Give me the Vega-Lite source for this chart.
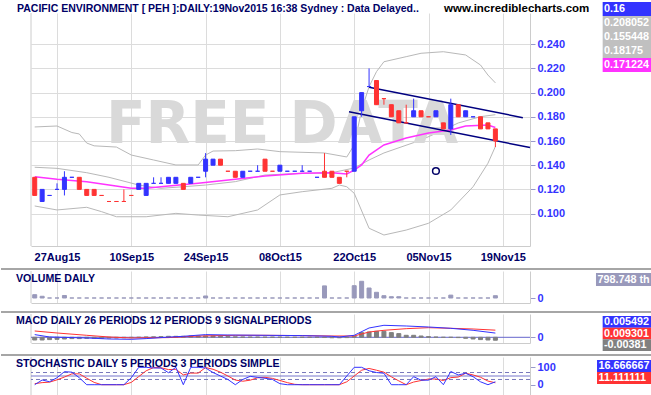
{
  "$schema": "https://vega.github.io/schema/vega-lite/v6.json",
  "background": "white",
  "padding": 0,
  "spacing": 0,
  "config": {
    "font": "Liberation Sans",
    "view": {"stroke": null},
    "axis": {"labelFont": "Liberation Sans"}
  },
  "datasets": {
    "days": [
      {"i":0,"date":"2015-08-24","o":0.13,"h":0.13,"l":0.115,"c":0.115,"dir":"down","vol":1150,"hist":-0.0035,"k":0,"d":6},
      {"i":1,"date":"2015-08-25","o":0.11,"h":0.12,"l":0.11,"c":0.12,"dir":"up","vol":600,"hist":-0.0035,"k":27,"d":12},
      {"i":2,"date":"2015-08-26","o":0.115,"h":0.115,"l":0.115,"c":0.115,"dir":"up","vol":0,"hist":-0.003,"k":17,"d":14.7},
      {"i":3,"date":"2015-08-27","o":0.12,"h":0.125,"l":0.12,"c":0.12,"dir":"up","vol":0,"hist":-0.0026,"k":40,"d":28},
      {"i":4,"date":"2015-08-28","o":0.12,"h":0.135,"l":0.115,"c":0.13,"dir":"up","vol":870,"hist":-0.0022,"k":75,"d":44},
      {"i":5,"date":"2015-08-31","o":0.13,"h":0.13,"l":0.13,"c":0.13,"dir":"up","vol":0,"hist":-0.0017,"k":72,"d":62.3},
      {"i":6,"date":"2015-09-01","o":0.13,"h":0.13,"l":0.12,"c":0.12,"dir":"down","vol":0,"hist":-0.0017,"k":40,"d":62.3},
      {"i":7,"date":"2015-09-02","o":0.12,"h":0.12,"l":0.115,"c":0.115,"dir":"down","vol":0,"hist":-0.0013,"k":0,"d":37.3},
      {"i":8,"date":"2015-09-03","o":0.12,"h":0.12,"l":0.115,"c":0.115,"dir":"down","vol":0,"hist":-0.0013,"k":0,"d":13.3},
      {"i":9,"date":"2015-09-04","o":0.115,"h":0.115,"l":0.115,"c":0.115,"dir":"down","vol":0,"hist":-0.0013,"k":0,"d":0},
      {"i":10,"date":"2015-09-07","o":0.11,"h":0.11,"l":0.11,"c":0.11,"dir":"down","vol":0,"hist":-0.0009,"k":0,"d":0},
      {"i":11,"date":"2015-09-08","o":0.11,"h":0.11,"l":0.11,"c":0.11,"dir":"down","vol":0,"hist":-0.0009,"k":0,"d":0},
      {"i":12,"date":"2015-09-09","o":0.11,"h":0.12,"l":0.11,"c":0.11,"dir":"down","vol":0,"hist":-0.0006,"k":0,"d":0},
      {"i":13,"date":"2015-09-10","o":0.115,"h":0.115,"l":0.115,"c":0.115,"dir":"down","vol":0,"hist":-0.0004,"k":40,"d":13.3},
      {"i":14,"date":"2015-09-11","o":0.12,"h":0.125,"l":0.12,"c":0.125,"dir":"up","vol":0,"hist":0,"k":100,"d":46.7},
      {"i":15,"date":"2015-09-14","o":0.115,"h":0.125,"l":0.115,"c":0.125,"dir":"up","vol":0,"hist":0.0004,"k":100,"d":80},
      {"i":16,"date":"2015-09-15","o":0.125,"h":0.13,"l":0.125,"c":0.125,"dir":"up","vol":0,"hist":0.0006,"k":96,"d":98.7},
      {"i":17,"date":"2015-09-16","o":0.125,"h":0.13,"l":0.125,"c":0.125,"dir":"up","vol":0,"hist":0.0009,"k":96,"d":97.3},
      {"i":18,"date":"2015-09-17","o":0.125,"h":0.13,"l":0.125,"c":0.13,"dir":"up","vol":0,"hist":0.0013,"k":69,"d":87},
      {"i":19,"date":"2015-09-18","o":0.125,"h":0.13,"l":0.125,"c":0.13,"dir":"up","vol":0,"hist":0.0013,"k":100,"d":88.3},
      {"i":20,"date":"2015-09-21","o":0.125,"h":0.125,"l":0.12,"c":0.12,"dir":"down","vol":0,"hist":0.0013,"k":0,"d":56.3},
      {"i":21,"date":"2015-09-22","o":0.125,"h":0.13,"l":0.125,"c":0.13,"dir":"up","vol":0,"hist":0.0017,"k":100,"d":66.7},
      {"i":22,"date":"2015-09-23","o":0.13,"h":0.13,"l":0.13,"c":0.13,"dir":"up","vol":0,"hist":0.0017,"k":100,"d":66.7},
      {"i":23,"date":"2015-09-24","o":0.135,"h":0.15,"l":0.13,"c":0.145,"dir":"up","vol":700,"hist":0.0017,"k":96,"d":98.7},
      {"i":24,"date":"2015-09-25","o":0.14,"h":0.145,"l":0.14,"c":0.145,"dir":"up","vol":0,"hist":0.0017,"k":70,"d":88.7},
      {"i":25,"date":"2015-09-28","o":0.145,"h":0.145,"l":0.14,"c":0.14,"dir":"down","vol":0,"hist":0.0013,"k":50,"d":72},
      {"i":26,"date":"2015-09-29","o":0.135,"h":0.135,"l":0.135,"c":0.135,"dir":"down","vol":0,"hist":0.0009,"k":30,"d":50},
      {"i":27,"date":"2015-09-30","o":0.135,"h":0.135,"l":0.13,"c":0.13,"dir":"down","vol":0,"hist":0.0006,"k":0,"d":26.7},
      {"i":28,"date":"2015-10-01","o":0.13,"h":0.135,"l":0.13,"c":0.135,"dir":"up","vol":0,"hist":0.0004,"k":30,"d":20},
      {"i":29,"date":"2015-10-02","o":0.135,"h":0.135,"l":0.135,"c":0.135,"dir":"up","vol":0,"hist":0.0003,"k":48,"d":26},
      {"i":30,"date":"2015-10-05","o":0.135,"h":0.14,"l":0.135,"c":0.135,"dir":"up","vol":0,"hist":0.0003,"k":42,"d":40},
      {"i":31,"date":"2015-10-06","o":0.145,"h":0.145,"l":0.135,"c":0.135,"dir":"down","vol":0,"hist":0.0002,"k":37,"d":42.3},
      {"i":32,"date":"2015-10-07","o":0.135,"h":0.135,"l":0.135,"c":0.135,"dir":"down","vol":0,"hist":0.0002,"k":30,"d":36.3},
      {"i":33,"date":"2015-10-08","o":0.135,"h":0.14,"l":0.135,"c":0.14,"dir":"up","vol":0,"hist":0.0002,"k":6,"d":24.3},
      {"i":34,"date":"2015-10-09","o":0.135,"h":0.135,"l":0.135,"c":0.135,"dir":"up","vol":0,"hist":0.0001,"k":0,"d":12},
      {"i":35,"date":"2015-10-12","o":0.135,"h":0.135,"l":0.135,"c":0.135,"dir":"up","vol":0,"hist":0,"k":0,"d":2},
      {"i":36,"date":"2015-10-13","o":0.135,"h":0.14,"l":0.135,"c":0.135,"dir":"up","vol":0,"hist":0,"k":0,"d":0},
      {"i":37,"date":"2015-10-14","o":0.135,"h":0.135,"l":0.135,"c":0.135,"dir":"up","vol":0,"hist":0,"k":0,"d":0},
      {"i":38,"date":"2015-10-15","o":0.13,"h":0.13,"l":0.13,"c":0.13,"dir":"up","vol":0,"hist":0,"k":0,"d":0},
      {"i":39,"date":"2015-10-16","o":0.135,"h":0.15,"l":0.13,"c":0.13,"dir":"down","vol":4200,"hist":-0.0003,"k":0,"d":0},
      {"i":40,"date":"2015-10-19","o":0.135,"h":0.135,"l":0.13,"c":0.13,"dir":"down","vol":0,"hist":-0.0006,"k":0,"d":0},
      {"i":41,"date":"2015-10-20","o":0.13,"h":0.13,"l":0.125,"c":0.125,"dir":"down","vol":0,"hist":-0.0006,"k":0,"d":0},
      {"i":42,"date":"2015-10-21","o":0.135,"h":0.135,"l":0.13,"c":0.135,"dir":"down","vol":0,"hist":-0.0004,"k":50,"d":16.7},
      {"i":43,"date":"2015-10-22","o":0.135,"h":0.18,"l":0.135,"c":0.18,"dir":"up","vol":4270,"hist":0.0013,"k":100,"d":50},
      {"i":44,"date":"2015-10-23","o":0.185,"h":0.2,"l":0.18,"c":0.2,"dir":"up","vol":5800,"hist":0.0061,"k":100,"d":83.3},
      {"i":45,"date":"2015-10-26","o":0.205,"h":0.22,"l":0.205,"c":0.205,"dir":"up","vol":3470,"hist":0.0069,"k":80,"d":93.3},
      {"i":46,"date":"2015-10-27","o":0.21,"h":0.21,"l":0.19,"c":0.19,"dir":"down","vol":1980,"hist":0.0078,"k":70,"d":83.3},
      {"i":47,"date":"2015-10-28","o":0.195,"h":0.195,"l":0.19,"c":0.195,"dir":"down","vol":800,"hist":0.0078,"k":66,"d":72},
      {"i":48,"date":"2015-10-29","o":0.19,"h":0.19,"l":0.18,"c":0.18,"dir":"down","vol":450,"hist":0.0061,"k":0,"d":45.3},
      {"i":49,"date":"2015-10-30","o":0.185,"h":0.185,"l":0.175,"c":0.175,"dir":"down","vol":450,"hist":0.0048,"k":0,"d":22},
      {"i":50,"date":"2015-11-02","o":0.175,"h":0.19,"l":0.175,"c":0.175,"dir":"down","vol":0,"hist":0.0026,"k":0,"d":0},
      {"i":51,"date":"2015-11-03","o":0.18,"h":0.195,"l":0.18,"c":0.185,"dir":"up","vol":0,"hist":0.0026,"k":46,"d":15.3},
      {"i":52,"date":"2015-11-04","o":0.185,"h":0.185,"l":0.18,"c":0.18,"dir":"down","vol":0,"hist":0.0017,"k":26,"d":24},
      {"i":53,"date":"2015-11-05","o":0.18,"h":0.18,"l":0.18,"c":0.18,"dir":"down","vol":0,"hist":0.0009,"k":26,"d":32.7},
      {"i":54,"date":"2015-11-06","o":0.18,"h":0.185,"l":0.18,"c":0.185,"dir":"up","vol":0,"hist":0.0004,"k":46,"d":32.7},
      {"i":55,"date":"2015-11-09","o":0.175,"h":0.175,"l":0.17,"c":0.17,"dir":"down","vol":0,"hist":0,"k":0,"d":24},
      {"i":56,"date":"2015-11-10","o":0.17,"h":0.195,"l":0.165,"c":0.19,"dir":"up","vol":1000,"hist":0,"k":76,"d":40.7},
      {"i":57,"date":"2015-11-11","o":0.19,"h":0.19,"l":0.18,"c":0.18,"dir":"down","vol":0,"hist":-0.0004,"k":56,"d":44},
      {"i":58,"date":"2015-11-12","o":0.18,"h":0.185,"l":0.18,"c":0.185,"dir":"up","vol":0,"hist":-0.0013,"k":66,"d":66},
      {"i":59,"date":"2015-11-13","o":0.18,"h":0.18,"l":0.18,"c":0.18,"dir":"up","vol":0,"hist":-0.0022,"k":46,"d":56},
      {"i":60,"date":"2015-11-16","o":0.18,"h":0.18,"l":0.17,"c":0.17,"dir":"down","vol":0,"hist":-0.003,"k":16.67,"d":42.9},
      {"i":61,"date":"2015-11-17","o":0.175,"h":0.175,"l":0.17,"c":0.17,"dir":"down","vol":0,"hist":-0.0035,"k":0,"d":20.9},
      {"i":62,"date":"2015-11-18","o":0.17,"h":0.17,"l":0.155,"c":0.16,"dir":"down","vol":798.748,"hist":-0.00381,"k":16.666667,"d":11.111111}
    ],
    "bb": [
      {"band":"upper","i":0,"p":0.1716},{"band":"upper","i":3,"p":0.1724},{"band":"upper","i":5,"p":0.167},{"band":"upper","i":6,"p":0.1658},{"band":"upper","i":7,"p":0.1583},{"band":"upper","i":8,"p":0.156},{"band":"upper","i":11,"p":0.155},{"band":"upper","i":13,"p":0.1484},{"band":"upper","i":16,"p":0.1443},{"band":"upper","i":19,"p":0.1402},{"band":"upper","i":22,"p":0.1402},{"band":"upper","i":23,"p":0.1484},{"band":"upper","i":24,"p":0.1517},{"band":"upper","i":27,"p":0.152},{"band":"upper","i":30,"p":0.1534},{"band":"upper","i":33,"p":0.1512},{"band":"upper","i":39,"p":0.1501},{"band":"upper","i":42,"p":0.1468},{"band":"upper","i":43,"p":0.1567},{"band":"upper","i":44,"p":0.1856},{"band":"upper","i":45,"p":0.2049},{"band":"upper","i":46,"p":0.2173},{"band":"upper","i":47,"p":0.2255},{"band":"upper","i":50,"p":0.2297},{"band":"upper","i":52,"p":0.2325},{"band":"upper","i":55,"p":0.2338},{"band":"upper","i":58,"p":0.2311},{"band":"upper","i":60,"p":0.2228},{"band":"upper","i":61,"p":0.2145},{"band":"upper","i":62,"p":0.208052},
      {"band":"middle","i":0,"p":0.1383},{"band":"middle","i":3,"p":0.1374},{"band":"middle","i":7,"p":0.1338},{"band":"middle","i":10,"p":0.13},{"band":"middle","i":14,"p":0.1236},{"band":"middle","i":17,"p":0.1209},{"band":"middle","i":20,"p":0.1222},{"band":"middle","i":23,"p":0.1236},{"band":"middle","i":27,"p":0.1264},{"band":"middle","i":31,"p":0.1319},{"band":"middle","i":36,"p":0.1333},{"band":"middle","i":40,"p":0.1338},{"band":"middle","i":43,"p":0.1377},{"band":"middle","i":45,"p":0.1443},{"band":"middle","i":47,"p":0.1501},{"band":"middle","i":52,"p":0.1608},{"band":"middle","i":55,"p":0.1691},{"band":"middle","i":57,"p":0.1749},{"band":"middle","i":60,"p":0.1801},{"band":"middle","i":62,"p":0.18175},
      {"band":"lower","i":0,"p":0.1063},{"band":"lower","i":3,"p":0.103},{"band":"lower","i":7,"p":0.1052},{"band":"lower","i":9,"p":0.1016},{"band":"lower","i":11,"p":0.0974},{"band":"lower","i":15,"p":0.0974},{"band":"lower","i":19,"p":0.1002},{"band":"lower","i":22,"p":0.0988},{"band":"lower","i":26,"p":0.0974},{"band":"lower","i":30,"p":0.103},{"band":"lower","i":33,"p":0.1154},{"band":"lower","i":36,"p":0.1181},{"band":"lower","i":40,"p":0.1209},{"band":"lower","i":41,"p":0.1236},{"band":"lower","i":42,"p":0.1222},{"band":"lower","i":43,"p":0.1168},{"band":"lower","i":45,"p":0.0879},{"band":"lower","i":47,"p":0.0823},{"band":"lower","i":50,"p":0.0864},{"band":"lower","i":53,"p":0.092},{"band":"lower","i":56,"p":0.103},{"band":"lower","i":59,"p":0.1222},{"band":"lower","i":61,"p":0.1416},{"band":"lower","i":62,"p":0.155448}
    ],
    "ma": [
      {"i":0,"p":0.1305},{"i":3,"p":0.1283},{"i":7,"p":0.1264},{"i":10,"p":0.1236},{"i":13,"p":0.1209},{"i":15,"p":0.1209},{"i":18,"p":0.1228},{"i":22,"p":0.125},{"i":27,"p":0.1283},{"i":31,"p":0.1311},{"i":36,"p":0.1333},{"i":40,"p":0.1338},{"i":42,"p":0.1327},{"i":43,"p":0.136},{"i":44,"p":0.1402},{"i":45,"p":0.1484},{"i":47,"p":0.1567},{"i":50,"p":0.1625},{"i":53,"p":0.1666},{"i":56,"p":0.1691},{"i":58,"p":0.1724},{"i":61,"p":0.1732},{"i":62,"p":0.171224}
    ],
    "trend": [
      {"line":"upper","i":45,"p":0.2044},{"line":"upper","i":65.7,"p":0.1793},
      {"line":"lower","i":42.3,"p":0.1842},{"line":"lower","i":66.66,"p":0.1546}
    ],
    "macdLine": [
      {"i":0,"v":0.0035},{"i":2,"v":0.0004},{"i":7,"v":-0.0009},{"i":10,"v":-0.0022},{"i":13,"v":-0.0026},{"i":15,"v":-0.0017},{"i":17,"v":-0.0004},{"i":20,"v":0.0013},{"i":23,"v":0.0035},{"i":26,"v":0.003},{"i":31,"v":0.0026},{"i":36,"v":0.0022},{"i":40,"v":0.0013},{"i":41,"v":0.0004},{"i":43,"v":0.0026},{"i":45,"v":0.0121},{"i":47,"v":0.0156},{"i":50,"v":0.0147},{"i":53,"v":0.0134},{"i":56,"v":0.0117},{"i":59,"v":0.0091},{"i":62,"v":0.0055}
    ],
    "sigLine": [
      {"i":0,"v":0.0082},{"i":3,"v":0.0056},{"i":7,"v":0.0026},{"i":10,"v":0.0004},{"i":13,"v":-0.0009},{"i":18,"v":-0.0004},{"i":22,"v":0.0017},{"i":27,"v":0.0026},{"i":31,"v":0.0026},{"i":36,"v":0.0022},{"i":40,"v":0.0017},{"i":43,"v":0.0017},{"i":45,"v":0.0069},{"i":47,"v":0.0091},{"i":50,"v":0.0112},{"i":53,"v":0.0125},{"i":56,"v":0.0117},{"i":59,"v":0.0108},{"i":62,"v":0.0093}
    ]
  },
  "vconcat": [
    {
      "width": 499,
      "height": 233,
      "layer": [
        {"data": {"name": "days"}, "mark": {"type": "point", "opacity": 0},
          "encoding": {
            "x": {"field": "i", "type": "quantitative", "title": null, "scale": {"domain": [-0.5, 66.66], "nice": false, "zero": false, "padding": 0},
              "axis": {"values": [3,13,23,33,43,53,63], "tickCount": 20, "grid": true, "gridColor": "#dcdcdc", "ticks": false, "domainColor": "#cccccc", "title": null,
                "labelColor": "#000066", "labelFontWeight": "bold", "labelFontSize": 11, "labelPadding": 5, "labelFlush": false, "labelOverlap": false,
                "labelExpr": "datum.value==3?'27Aug15':datum.value==13?'10Sep15':datum.value==23?'24Sep15':datum.value==33?'08Oct15':datum.value==43?'22Oct15':datum.value==53?'05Nov15':'19Nov15'"}},
            "y": {"field": "c", "type": "quantitative", "title": null, "scale": {"domain": [0.07322, 0.26579], "nice": false, "zero": false, "padding": 0},
              "axis": {"orient": "right", "values": [0.1,0.12,0.14,0.16,0.18,0.2,0.22,0.24], "tickCount": 20, "format": ".3f", "grid": true, "gridColor": "#dcdcdc", "domainColor": "#cccccc", "tickColor": "#9999cc", "tickSize": 5, "labelColor": "#3333ff", "labelFontWeight": "bold", "labelFontSize": 11, "labelPadding": 2, "labelOverlap": false, "labelFlush": false, "title": null}}}},
        {"data": {"values": [{}]}, "mark": {"type": "rule", "color": "#cccccc"},
          "encoding": {"x": {"datum": -0.5, "type": "quantitative", "title": null}}},
        {"data": {"name": "bb"}, "mark": {"type": "line", "color": "#b8b8b8", "strokeWidth": 1},
          "encoding": {"x": {"field": "i", "type": "quantitative", "title": null}, "y": {"field": "p", "type": "quantitative", "title": null}, "detail": {"field": "band"}}},
        {"data": {"values": [{"t": "FREE DATA"}]}, "mark": {"type": "text", "align": "center", "baseline": "alphabetic", "font": "DejaVu Sans", "fontSize": 58, "fontWeight": "bold", "color": "#d9d9d9"},
          "encoding": {"x": {"datum": 33.28, "type": "quantitative", "title": null}, "y": {"datum": 0.1581, "type": "quantitative", "title": null}, "text": {"field": "t"}}},
        {"data": {"name": "ma"}, "mark": {"type": "line", "color": "#ff33ff", "strokeWidth": 1.5},
          "encoding": {"x": {"field": "i", "type": "quantitative", "title": null}, "y": {"field": "p", "type": "quantitative", "title": null}}},
        {"data": {"name": "trend"}, "mark": {"type": "line", "color": "#000080", "strokeWidth": 1.5},
          "encoding": {"x": {"field": "i", "type": "quantitative", "title": null}, "y": {"field": "p", "type": "quantitative", "title": null}, "detail": {"field": "line"}}},
        {"data": {"name": "days"}, "mark": {"type": "rule", "strokeWidth": 1},
          "encoding": {"x": {"field": "i", "type": "quantitative", "title": null}, "y": {"field": "l", "type": "quantitative", "title": null}, "y2": {"field": "h"},
            "stroke": {"field": "dir", "type": "nominal", "scale": {"domain": ["up","down"], "range": ["#3333ff","#ff3333"]}, "legend": null}}},
        {"data": {"name": "days"}, "mark": {"type": "bar", "size": 4, "strokeWidth": 1},
          "encoding": {"x": {"field": "i", "type": "quantitative", "title": null}, "y": {"field": "o", "type": "quantitative", "title": null}, "y2": {"field": "c"},
            "fill": {"field": "dir", "type": "nominal", "scale": {"domain": ["up","down"], "range": ["#3333ff","#ff3333"]}, "legend": null},
            "stroke": {"field": "dir", "type": "nominal", "scale": {"domain": ["up","down"], "range": ["#3333ff","#ff3333"]}, "legend": null}}},
        {"data": {"values": [{"i": 54, "p": 0.1352}]}, "mark": {"type": "point", "shape": "circle", "filled": false, "size": 45, "color": "#000066", "strokeWidth": 1.5, "opacity": 1},
          "encoding": {"x": {"field": "i", "type": "quantitative", "title": null}, "y": {"field": "p", "type": "quantitative", "title": null}}},
        {"data": {"values": [{"t": "PACIFIC ENVIRONMENT [ PEH ]:DAILY:19Nov2015 16:38 Sydney : Data Delayed.."}]},
          "mark": {"type": "text", "align": "left", "baseline": "alphabetic", "fontSize": 10.5, "fontWeight": "bold", "color": "#000066"},
          "encoding": {"x": {"datum": -2.384, "type": "quantitative", "title": null}, "y": {"datum": 0.26653, "type": "quantitative", "title": null}, "text": {"field": "t"}}},
        {"data": {"values": [{"t": "www.incrediblecharts.com"}]},
          "mark": {"type": "text", "align": "left", "baseline": "alphabetic", "fontSize": 11.5, "fontWeight": "bold", "color": "#000000"},
          "encoding": {"x": {"datum": 55.09, "type": "quantitative", "title": null}, "y": {"datum": 0.26653, "type": "quantitative", "title": null}, "text": {"field": "t"}}},
        {"data": {"values": [{}]}, "mark": {"type": "rect", "color": "#a6a6a6"},
          "encoding": {"x": {"datum": -4.538, "type": "quantitative", "title": null}, "x2": {"datum": 83.08}, "y": {"datum": 0.05504, "type": "quantitative", "title": null}, "y2": {"datum": 0.05339}}},
        {"data": {"values": [{}]}, "mark": {"type": "rect", "color": "#ffffff", "opacity": 0},
          "encoding": {"x": {"datum": -4.538, "type": "quantitative", "title": null}, "x2": {"datum": 83.08}, "y": {"datum": 0.27653, "type": "quantitative", "title": null}, "y2": {"datum": 0.2757}}},
        {"data": {"values": [{"label": "0.16"}]}, "mark": {"type": "rect", "color": "#3333ff"},
          "encoding": {"x": {"datum": 76.44, "type": "quantitative", "title": null}, "x2": {"datum": 83.08}, "y": {"datum": 0.27488, "type": "quantitative", "title": null}, "y2": {"datum": 0.26331}}},
        {"data": {"values": [{"label": "0.208052"}]}, "mark": {"type": "rect", "color": "#c0c0c0"},
          "encoding": {"x": {"datum": 76.44, "type": "quantitative", "title": null}, "x2": {"datum": 83.08}, "y": {"datum": 0.26331, "type": "quantitative", "title": null}, "y2": {"datum": 0.25174}}},
        {"data": {"values": [{"label": "0.155448"}]}, "mark": {"type": "rect", "color": "#c0c0c0"},
          "encoding": {"x": {"datum": 76.44, "type": "quantitative", "title": null}, "x2": {"datum": 83.08}, "y": {"datum": 0.25174, "type": "quantitative", "title": null}, "y2": {"datum": 0.24017}}},
        {"data": {"values": [{"label": "0.18175"}]}, "mark": {"type": "rect", "color": "#c0c0c0"},
          "encoding": {"x": {"datum": 76.44, "type": "quantitative", "title": null}, "x2": {"datum": 83.08}, "y": {"datum": 0.24017, "type": "quantitative", "title": null}, "y2": {"datum": 0.2286}}},
        {"data": {"values": [{"label": "0.171224"}]}, "mark": {"type": "rect", "color": "#ff33ff"},
          "encoding": {"x": {"datum": 76.44, "type": "quantitative", "title": null}, "x2": {"datum": 83.08}, "y": {"datum": 0.2286, "type": "quantitative", "title": null}, "y2": {"datum": 0.21703}}},
        {"data": {"values": [{"label": "0.16"}]}, "mark": {"type": "text", "align": "left", "baseline": "middle", "color": "#ffffff", "fontWeight": "bold", "fontSize": 10.8},
          "encoding": {"x": {"datum": 76.62, "type": "quantitative", "title": null}, "y": {"datum": 0.2691, "type": "quantitative", "title": null}, "text": {"field": "label"}}},
        {"data": {"values": [{"label": "0.208052"}]}, "mark": {"type": "text", "align": "left", "baseline": "middle", "color": "#ffffff", "fontWeight": "bold", "fontSize": 10.8},
          "encoding": {"x": {"datum": 76.62, "type": "quantitative", "title": null}, "y": {"datum": 0.25753, "type": "quantitative", "title": null}, "text": {"field": "label"}}},
        {"data": {"values": [{"label": "0.155448"}]}, "mark": {"type": "text", "align": "left", "baseline": "middle", "color": "#ffffff", "fontWeight": "bold", "fontSize": 10.8},
          "encoding": {"x": {"datum": 76.62, "type": "quantitative", "title": null}, "y": {"datum": 0.24596, "type": "quantitative", "title": null}, "text": {"field": "label"}}},
        {"data": {"values": [{"label": "0.18175"}]}, "mark": {"type": "text", "align": "left", "baseline": "middle", "color": "#ffffff", "fontWeight": "bold", "fontSize": 10.8},
          "encoding": {"x": {"datum": 76.62, "type": "quantitative", "title": null}, "y": {"datum": 0.23439, "type": "quantitative", "title": null}, "text": {"field": "label"}}},
        {"data": {"values": [{"label": "0.171224"}]}, "mark": {"type": "text", "align": "left", "baseline": "middle", "color": "#ffffff", "fontWeight": "bold", "fontSize": 10.8},
          "encoding": {"x": {"datum": 76.62, "type": "quantitative", "title": null}, "y": {"datum": 0.22281, "type": "quantitative", "title": null}, "text": {"field": "label"}}}
      ]
    },
    {
      "width": 499,
      "height": 32,
      "layer": [
        {"data": {"name": "days"}, "mark": {"type": "point", "opacity": 0},
          "encoding": {
            "x": {"field": "i", "type": "quantitative", "title": null, "scale": {"domain": [-0.5, 66.66], "nice": false, "zero": false, "padding": 0},
              "axis": {"values": [3,13,23,33,43,53,63], "tickCount": 20, "grid": true, "gridColor": "#dcdcdc", "ticks": false, "labels": false, "domainColor": "#cccccc", "title": null}},
            "y": {"field": "vol", "type": "quantitative", "title": null, "scale": {"domain": [-1735, 9370], "nice": false, "zero": false, "padding": 0},
              "axis": {"orient": "right", "values": [0], "format": "d", "grid": false, "domainColor": "#cccccc", "tickColor": "#9999cc", "tickSize": 5, "labelColor": "#3333ff", "labelFontWeight": "bold", "labelFontSize": 11, "labelPadding": 2, "title": null}}}},
        {"data": {"values": [{}]}, "mark": {"type": "rule", "color": "#cccccc"},
          "encoding": {"x": {"datum": -0.5, "type": "quantitative", "title": null}}},
        {"data": {"name": "days"}, "mark": {"type": "bar", "size": 4, "strokeWidth": 1, "fill": "#9999bb", "stroke": "#9999bb"},
          "encoding": {"x": {"field": "i", "type": "quantitative", "title": null}, "y": {"field": "vol", "type": "quantitative", "title": null}, "y2": {"datum": 0}}},
        {"data": {"values": [{"t": "VOLUME DAILY"}]},
          "mark": {"type": "text", "align": "left", "baseline": "alphabetic", "fontSize": 10.6, "fontWeight": "bold", "color": "#000066"},
          "encoding": {"x": {"datum": -2.52, "type": "quantitative", "title": null}, "y": {"datum": 5552, "type": "quantitative", "title": null}, "text": {"field": "t"}}},
        {"data": {"values": [{}]}, "mark": {"type": "rect", "color": "#a6a6a6"},
          "encoding": {"x": {"datum": -4.538, "type": "quantitative", "title": null}, "x2": {"datum": 83.08}, "y": {"datum": -4511, "type": "quantitative", "title": null}, "y2": {"datum": -5205}}},
        {"data": {"values": [{"label": "798.748 th"}]}, "mark": {"type": "rect", "color": "#9999bb"},
          "encoding": {"x": {"datum": 75.54, "type": "quantitative", "title": null}, "x2": {"datum": 83.08}, "y": {"datum": 8676, "type": "quantitative", "title": null}, "y2": {"datum": 4164}}},
        {"data": {"values": [{"label": "798.748 th"}]}, "mark": {"type": "text", "align": "left", "baseline": "middle", "color": "#ffffff", "fontWeight": "bold", "fontSize": 10.8},
          "encoding": {"x": {"datum": 75.74, "type": "quantitative", "title": null}, "y": {"datum": 6420, "type": "quantitative", "title": null}, "text": {"field": "label"}}}
      ]
    },
    {
      "width": 499,
      "height": 29,
      "layer": [
        {"data": {"name": "days"}, "mark": {"type": "point", "opacity": 0},
          "encoding": {
            "x": {"field": "i", "type": "quantitative", "title": null, "scale": {"domain": [-0.5, 66.66], "nice": false, "zero": false, "padding": 0},
              "axis": {"values": [3,13,23,33,43,53,63], "tickCount": 20, "grid": true, "gridColor": "#dcdcdc", "ticks": false, "labels": false, "domainColor": "#cccccc", "title": null}},
            "y": {"field": "hist", "type": "quantitative", "title": null, "scale": {"domain": [-0.00741, 0.03029], "nice": false, "zero": false, "padding": 0},
              "axis": {"orient": "right", "values": [0], "format": "d", "grid": false, "domainColor": "#cccccc", "tickColor": "#9999cc", "tickSize": 5, "labelColor": "#3333ff", "labelFontWeight": "bold", "labelFontSize": 11, "labelPadding": 2, "title": null}}}},
        {"data": {"values": [{}]}, "mark": {"type": "rule", "color": "#cccccc"},
          "encoding": {"x": {"datum": -0.5, "type": "quantitative", "title": null}}},
        {"data": {"values": [{}]}, "mark": {"type": "rule", "color": "#6666cc"},
          "encoding": {"y": {"datum": 0, "type": "quantitative", "title": null}}},
        {"data": {"name": "days"}, "mark": {"type": "bar", "size": 4, "strokeWidth": 1, "fill": "#808080", "stroke": "#808080"},
          "encoding": {"x": {"field": "i", "type": "quantitative", "title": null}, "y": {"field": "hist", "type": "quantitative", "title": null}, "y2": {"datum": 0}}},
        {"data": {"name": "sigLine"}, "mark": {"type": "line", "color": "#ff3333", "strokeWidth": 1},
          "encoding": {"x": {"field": "i", "type": "quantitative", "title": null}, "y": {"field": "v", "type": "quantitative", "title": null}}},
        {"data": {"name": "macdLine"}, "mark": {"type": "line", "color": "#3333ff", "strokeWidth": 1},
          "encoding": {"x": {"field": "i", "type": "quantitative", "title": null}, "y": {"field": "v", "type": "quantitative", "title": null}}},
        {"data": {"values": [{"t": "MACD DAILY 26 PERIODS 12 PERIODS 9 SIGNALPERIODS"}]},
          "mark": {"type": "text", "align": "left", "baseline": "alphabetic", "fontSize": 10.6, "fontWeight": "bold", "color": "#000066"},
          "encoding": {"x": {"datum": -2.52, "type": "quantitative", "title": null}, "y": {"datum": 0.0169, "type": "quantitative", "title": null}, "text": {"field": "t"}}},
        {"data": {"values": [{}]}, "mark": {"type": "rect", "color": "#a6a6a6"},
          "encoding": {"x": {"datum": -4.538, "type": "quantitative", "title": null}, "x2": {"datum": 83.08}, "y": {"datum": -0.02171, "type": "quantitative", "title": null}, "y2": {"datum": -0.02431}}},
        {"data": {"values": [{"label": "0.005492"}]}, "mark": {"type": "rect", "color": "#3333ff"},
          "encoding": {"x": {"datum": 76.44, "type": "quantitative", "title": null}, "x2": {"datum": 83.08}, "y": {"datum": 0.02769, "type": "quantitative", "title": null}, "y2": {"datum": 0.01248}}},
        {"data": {"values": [{"label": "0.009301"}]}, "mark": {"type": "rect", "color": "#ff3333"},
          "encoding": {"x": {"datum": 76.44, "type": "quantitative", "title": null}, "x2": {"datum": 83.08}, "y": {"datum": 0.01248, "type": "quantitative", "title": null}, "y2": {"datum": -0.0026}}},
        {"data": {"values": [{"label": "-0.00381"}]}, "mark": {"type": "rect", "color": "#808080"},
          "encoding": {"x": {"datum": 76.44, "type": "quantitative", "title": null}, "x2": {"datum": 83.08}, "y": {"datum": -0.0026, "type": "quantitative", "title": null}, "y2": {"datum": -0.01781}}},
        {"data": {"values": [{"label": "0.005492"}]}, "mark": {"type": "text", "align": "left", "baseline": "middle", "color": "#ffffff", "fontWeight": "bold", "fontSize": 10.8},
          "encoding": {"x": {"datum": 76.62, "type": "quantitative", "title": null}, "y": {"datum": 0.02015, "type": "quantitative", "title": null}, "text": {"field": "label"}}},
        {"data": {"values": [{"label": "0.009301"}]}, "mark": {"type": "text", "align": "left", "baseline": "middle", "color": "#ffffff", "fontWeight": "bold", "fontSize": 10.8},
          "encoding": {"x": {"datum": 76.62, "type": "quantitative", "title": null}, "y": {"datum": 0.00494, "type": "quantitative", "title": null}, "text": {"field": "label"}}},
        {"data": {"values": [{"label": "-0.00381"}]}, "mark": {"type": "text", "align": "left", "baseline": "middle", "color": "#ffffff", "fontWeight": "bold", "fontSize": 10.8},
          "encoding": {"x": {"datum": 76.62, "type": "quantitative", "title": null}, "y": {"datum": -0.01027, "type": "quantitative", "title": null}, "text": {"field": "label"}}}
      ]
    },
    {
      "width": 499,
      "height": 41,
      "layer": [
        {"data": {"name": "days"}, "mark": {"type": "point", "opacity": 0},
          "encoding": {
            "x": {"field": "i", "type": "quantitative", "title": null, "scale": {"domain": [-0.5, 66.66], "nice": false, "zero": false, "padding": 0},
              "axis": {"values": [3,13,23,33,43,53,63], "tickCount": 20, "grid": true, "gridColor": "#dcdcdc", "ticks": false, "labels": false, "domain": false, "title": null}},
            "y": {"field": "k", "type": "quantitative", "title": null, "scale": {"domain": [-76.4, 159.2], "nice": false, "zero": false, "padding": 0},
              "axis": {"orient": "right", "values": [0, 100], "tickCount": 5, "format": "d", "grid": false, "domainColor": "#cccccc", "tickColor": "#9999cc", "tickSize": 5, "labelColor": "#3333ff", "labelFontWeight": "bold", "labelFontSize": 11, "labelPadding": 2, "labelOverlap": false, "title": null}}}},
        {"data": {"values": [{}]}, "mark": {"type": "rule", "color": "#cccccc"},
          "encoding": {"x": {"datum": -0.5, "type": "quantitative", "title": null}}},
        {"data": {"values": [{}]}, "mark": {"type": "rule", "color": "#7777bb", "strokeDash": [4, 3]},
          "encoding": {"y": {"datum": 70, "type": "quantitative", "title": null}}},
        {"data": {"values": [{}]}, "mark": {"type": "rule", "color": "#7777bb", "strokeDash": [4, 3]},
          "encoding": {"y": {"datum": 30, "type": "quantitative", "title": null}}},
        {"data": {"values": [{}]}, "mark": {"type": "rule", "color": "#7777cc"},
          "encoding": {"y": {"datum": 50, "type": "quantitative", "title": null}}},
        {"data": {"name": "days"}, "mark": {"type": "line", "color": "#ff3333", "strokeWidth": 1},
          "encoding": {"x": {"field": "i", "type": "quantitative", "title": null}, "y": {"field": "d", "type": "quantitative", "title": null}}},
        {"data": {"name": "days"}, "mark": {"type": "line", "color": "#3333ff", "strokeWidth": 1},
          "encoding": {"x": {"field": "i", "type": "quantitative", "title": null}, "y": {"field": "k", "type": "quantitative", "title": null}}},
        {"data": {"values": [{"t": "STOCHASTIC DAILY 5 PERIODS 3 PERIODS SIMPLE"}]},
          "mark": {"type": "text", "align": "left", "baseline": "alphabetic", "fontSize": 10.6, "fontWeight": "bold", "color": "#000066"},
          "encoding": {"x": {"datum": -2.52, "type": "quantitative", "title": null}, "y": {"datum": 101.7, "type": "quantitative", "title": null}, "text": {"field": "t"}}},
        {"data": {"values": [{}]}, "mark": {"type": "rect", "color": "#ffffff", "opacity": 0},
          "encoding": {"x": {"datum": -4.538, "type": "quantitative", "title": null}, "x2": {"datum": 83.08}, "y": {"datum": 50, "type": "quantitative", "title": null}, "y2": {"datum": 49}}},
        {"data": {"values": [{"label": "16.666667"}]}, "mark": {"type": "rect", "color": "#3333ff"},
          "encoding": {"x": {"datum": 75.68, "type": "quantitative", "title": null}, "x2": {"datum": 83.08}, "y": {"datum": 141.9, "type": "quantitative", "title": null}, "y2": {"datum": 73}}},
        {"data": {"values": [{"label": "11.111111"}]}, "mark": {"type": "rect", "color": "#ff3333"},
          "encoding": {"x": {"datum": 75.68, "type": "quantitative", "title": null}, "x2": {"datum": 83.08}, "y": {"datum": 73, "type": "quantitative", "title": null}, "y2": {"datum": 4}}},
        {"data": {"values": [{"label": "16.666667"}]}, "mark": {"type": "text", "align": "left", "baseline": "middle", "color": "#ffffff", "fontWeight": "bold", "fontSize": 10.8},
          "encoding": {"x": {"datum": 75.88, "type": "quantitative", "title": null}, "y": {"datum": 107.5, "type": "quantitative", "title": null}, "text": {"field": "label"}}},
        {"data": {"values": [{"label": "11.111111"}]}, "mark": {"type": "text", "align": "left", "baseline": "middle", "color": "#ffffff", "fontWeight": "bold", "fontSize": 10.8},
          "encoding": {"x": {"datum": 75.88, "type": "quantitative", "title": null}, "y": {"datum": 38.5, "type": "quantitative", "title": null}, "text": {"field": "label"}}}
      ]
    }
  ]
}
